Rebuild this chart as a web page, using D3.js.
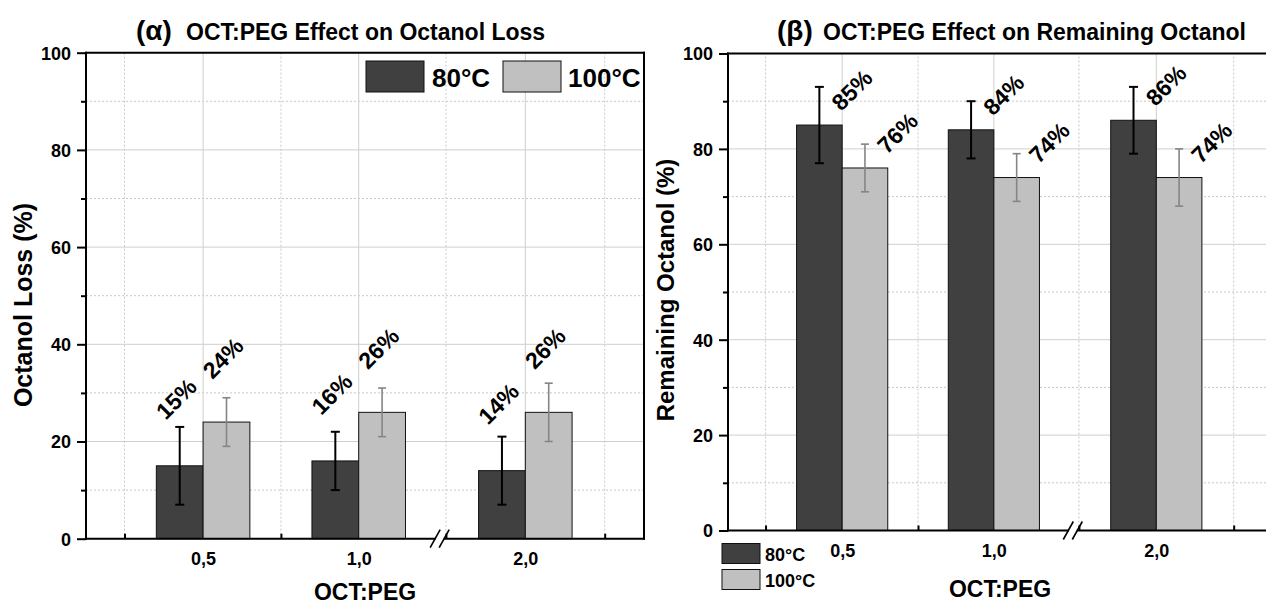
<!DOCTYPE html>
<html>
<head>
<meta charset="utf-8">
<script src="https://cdn.jsdelivr.net/npm/d3@7"></script>
<style>
  html, body { margin: 0; padding: 0; background: #fff; }
  svg { display: block; }
  text { font-family: "Liberation Sans", Arial, sans-serif; font-weight: bold; fill: #000; }
</style>
</head>
<body>
<svg id="chart" width="1266" height="604"></svg>
<script>
// ---------- data ----------
const categories = ["0,5", "1,0", "2,0"];
const seriesNames = ["80°C", "100°C"];
const lossValues80 = [15, 16, 14];
const lossErrors80 = [8, 6, 7];
const lossValues100 = [24, 26, 26];
const lossErrors100 = [5, 5, 6];
const remainValues80 = [85, 84, 86];
const remainErrors80 = [8, 6, 7];
const remainValues100 = [76, 74, 74];
const remainErrors100 = [5, 5, 6];
const yMajorTicks = [0, 20, 40, 60, 80, 100];
const yMinorTicks = [10, 30, 50, 70, 90];

// ---------- layout ----------
const catPos = [1.49, 3.47, 5.59];      // category positions on the (broken) x axis
const minorPos = [0.49, 2.48, 4.58, 6.6];
const breakPos = 4.5;
const xDomain = [0, 7.1];
const barW = 0.595;
const colors = ["#404040", "#c0c0c0"];
const errColors = ["#000000", "#858585"];

const svg = d3.select("#chart");

function panel(cfg) {
  const g = svg.append("g");
  const x = d3.scaleLinear().domain(xDomain).range([cfg.x0, cfg.x1]);
  const y = d3.scaleLinear().domain([0, 100]).range([cfg.y0, cfg.y1]);

  // grid
  const grid = g.append("g");
  grid.selectAll(".ymaj").data(yMajorTicks.filter(d => d > 0 && d < 100)).join("line")
    .attr("x1", cfg.x0).attr("x2", cfg.x1).attr("y1", d => y(d)).attr("y2", d => y(d))
    .attr("stroke", "#cfcfcf").attr("stroke-width", 1);
  grid.selectAll(".ymin").data(yMinorTicks).join("line")
    .attr("x1", cfg.x0).attr("x2", cfg.x1).attr("y1", d => y(d)).attr("y2", d => y(d))
    .attr("stroke", "#c8c8c8").attr("stroke-width", 1).attr("stroke-dasharray", "2,2");
  grid.selectAll(".xmaj").data(catPos).join("line")
    .attr("x1", d => x(d)).attr("x2", d => x(d)).attr("y1", cfg.y0).attr("y2", cfg.y1)
    .attr("stroke", "#cfcfcf").attr("stroke-width", 1);
  grid.selectAll(".xmin").data(minorPos).join("line")
    .attr("x1", d => x(d)).attr("x2", d => x(d)).attr("y1", cfg.y0).attr("y2", cfg.y1)
    .attr("stroke", "#c8c8c8").attr("stroke-width", 1).attr("stroke-dasharray", "2,2");

  // bars
  const series = [
    { vals: cfg.v80, errs: cfg.e80, off: -barW, si: 0 },
    { vals: cfg.v100, errs: cfg.e100, off: 0, si: 1 }
  ];
  series.forEach(s => {
    g.append("g").selectAll("rect").data(s.vals).join("rect")
      .attr("x", (d, i) => x(catPos[i] + s.off))
      .attr("width", x(barW) - x(0))
      .attr("y", d => y(d))
      .attr("height", d => y(0) - y(d))
      .attr("fill", colors[s.si])
      .attr("stroke", "#111").attr("stroke-width", 1);
  });
  // error bars
  series.forEach(s => {
    const eg = g.append("g").attr("stroke", errColors[s.si]).attr("stroke-width", s.si === 0 ? 2 : 1.6);
    const cx = i => x(catPos[i] + s.off + barW / 2);
    const cap = s.si === 0 ? 4.5 : 4;
    s.vals.forEach((v, i) => {
      eg.append("line").attr("x1", cx(i)).attr("x2", cx(i)).attr("y1", y(v - s.errs[i])).attr("y2", y(v + s.errs[i]));
      eg.append("line").attr("x1", cx(i) - cap).attr("x2", cx(i) + cap).attr("y1", y(v - s.errs[i])).attr("y2", y(v - s.errs[i]));
      eg.append("line").attr("x1", cx(i) - cap).attr("x2", cx(i) + cap).attr("y1", y(v + s.errs[i])).attr("y2", y(v + s.errs[i]));
    });
  });
  // value labels
  series.forEach(s => {
    s.vals.forEach((v, i) => {
      const cx = x(catPos[i] + s.off + barW / 2);
      const lx = cx + cfg.labDx;
      const ly = y(v) + cfg.labDy[s.si];
      g.append("text").attr("x", lx).attr("y", ly)
        .attr("transform", `rotate(-45,${lx},${ly})`)
        .attr("font-size", 23).text(v + "%");
    });
  });

  // spines
  const ax = g.append("g").attr("stroke", "#000").attr("stroke-width", 2).attr("fill", "none");
  ax.append("line").attr("x1", cfg.x0 - 1).attr("x2", cfg.spineEnd).attr("y1", cfg.y1).attr("y2", cfg.y1);
  ax.append("line").attr("x1", cfg.x0).attr("x2", cfg.x0).attr("y1", cfg.y0 + 1).attr("y2", cfg.y1 - 1);
  if (cfg.rightSpine) ax.append("line").attr("x1", cfg.x1).attr("x2", cfg.x1).attr("y1", cfg.y0 + 1).attr("y2", cfg.y1 - 1);
  ax.append("line").attr("x1", cfg.x0 - 1).attr("x2", cfg.spineEnd).attr("y1", cfg.y0).attr("y2", cfg.y0);

  // y axis ticks & labels via d3.axisLeft
  const yAxis = d3.axisLeft(y).tickValues(yMajorTicks).tickSize(9).tickPadding(6).tickFormat(d3.format("d"));
  const ya = g.append("g").attr("transform", `translate(${cfg.x0},0)`).call(yAxis);
  ya.select(".domain").remove();
  ya.selectAll(".tick line").attr("stroke", "#000").attr("stroke-width", 2);
  ya.selectAll(".tick text").attr("font-size", 18).attr("font-family", "Liberation Sans, Arial, sans-serif").attr("font-weight", "bold").attr("fill", "#000").attr("dy", "0.36em");
  const yMin = d3.axisLeft(y).tickValues(yMinorTicks).tickSize(5).tickFormat("");
  const ym = g.append("g").attr("transform", `translate(${cfg.x0},0)`).call(yMin);
  ym.select(".domain").remove();
  ym.selectAll(".tick line").attr("stroke", "#000").attr("stroke-width", 2);

  // x axis: category labels, inward minor ticks
  const xAxis = d3.axisBottom(x).tickValues(catPos).tickSize(0).tickPadding(14)
    .tickFormat((d, i) => categories[i]);
  const xa = g.append("g").attr("transform", `translate(0,${cfg.y0})`).call(xAxis);
  xa.select(".domain").remove();
  xa.selectAll(".tick text").attr("font-size", 18).attr("font-family", "Liberation Sans, Arial, sans-serif").attr("font-weight", "bold").attr("fill", "#000");
  const xMin = d3.axisTop(x).tickValues(minorPos).tickSize(5).tickFormat("");
  const xm = g.append("g").attr("transform", `translate(0,${cfg.y0})`).call(xMin);
  xm.select(".domain").remove();
  xm.selectAll(".tick line").attr("stroke", "#000").attr("stroke-width", 2);

  // axis break
  const bx = x(breakPos);
  g.append("rect").attr("x", bx - 4).attr("y", cfg.y0 - 2).attr("width", 8).attr("height", 4).attr("fill", "#fff");
  [-4.5, 4.5].forEach(o => {
    g.append("line").attr("x1", bx + o - 5).attr("y1", cfg.y0 + 9).attr("x2", bx + o + 5).attr("y2", cfg.y0 - 9)
      .attr("stroke", "#000").attr("stroke-width", 1.6);
  });

  // titles
  g.append("text").attr("x", cfg.greekX).attr("y", 40).attr("font-size", 28).text(cfg.greek);
  g.append("text").attr("x", cfg.titleX).attr("y", 40).attr("font-size", 23).text(cfg.title);
  g.append("text").attr("x", (cfg.x0 + cfg.x1) / 2).attr("y", cfg.xTitleY).attr("text-anchor", "middle")
    .attr("font-size", 23).text("OCT:PEG");
  g.append("text").attr("transform", `translate(${cfg.yTitleX},${cfg.yTitleY}) rotate(-90)`)
    .attr("text-anchor", "middle").attr("font-size", cfg.yTitleSize).text(cfg.yTitle);

  return { x, y, g };
}

// left panel
const L = panel({
  x0: 86, x1: 644, y0: 538.7, y1: 52.7, spineEnd: 645, rightSpine: true,
  v80: lossValues80, e80: lossErrors80, v100: lossValues100, e100: lossErrors100,
  labDx: -14, labDy: [-45, -42],
  greek: "(α)", greekX: 136, title: "OCT:PEG Effect on Octanol Loss", titleX: 186,
  xTitleY: 600, yTitle: "Octanol Loss (%)", yTitleX: 32, yTitleY: 305, yTitleSize: 25
});
// right panel
const R = panel({
  x0: 728, x1: 1272, y0: 530.5, y1: 53.5, spineEnd: 1272, rightSpine: true,
  v80: remainValues80, e80: remainErrors80, v100: remainValues100, e100: remainErrors100,
  labDx: 22, labDy: [-13, -13],
  greek: "(β)", greekX: 777, title: "OCT:PEG Effect on Remaining Octanol", titleX: 823,
  xTitleY: 597, yTitle: "Remaining Octanol (%)", yTitleX: 674, yTitleY: 290, yTitleSize: 24
});

// legends
const legL = svg.append("g");
const legLItems = [{ x: 366, tx: 432 }, { x: 503, tx: 568 }];
seriesNames.forEach((n, i) => {
  legL.append("rect").attr("x", legLItems[i].x).attr("y", 61).attr("width", 58).attr("height", 31)
    .attr("fill", colors[i]).attr("stroke", "#111").attr("stroke-width", 1);
  legL.append("text").attr("x", legLItems[i].tx).attr("y", 87).attr("font-size", 26).text(n);
});
const legR = svg.append("g");
const legRY = [543.5, 569.5];
seriesNames.forEach((n, i) => {
  legR.append("rect").attr("x", 722).attr("y", legRY[i]).attr("width", 38).attr("height", 20)
    .attr("fill", colors[i]).attr("stroke", "#111").attr("stroke-width", 1);
  legR.append("text").attr("x", 765).attr("y", legRY[i] + 17).attr("font-size", 18).text(n);
});
</script>
</body>
</html>
